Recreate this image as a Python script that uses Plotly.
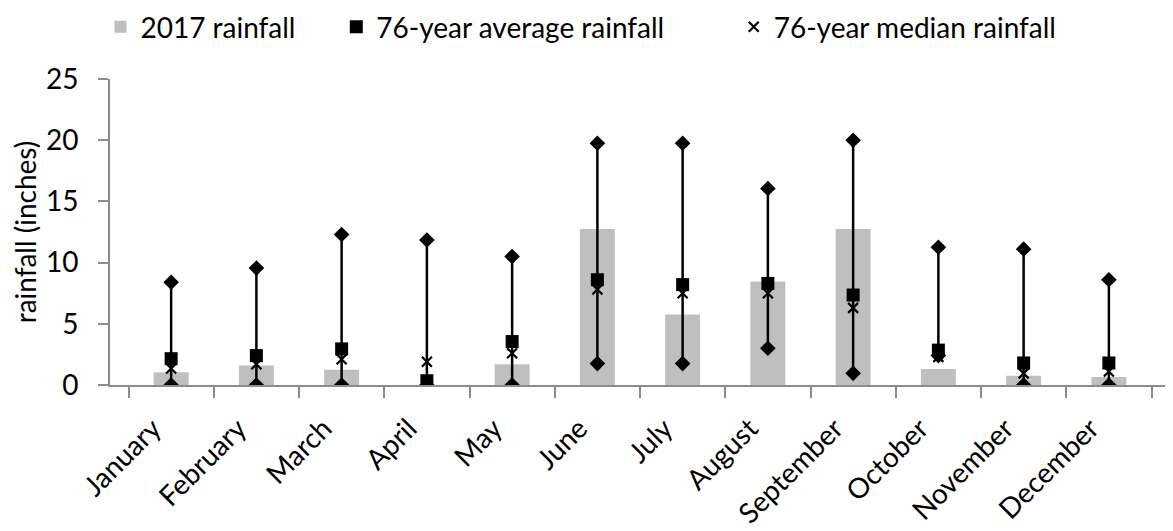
import plotly.graph_objects as go

months = ['January', 'February', 'March', 'April', 'May', 'June',
          'July', 'August', 'September', 'October', 'November', 'December']
rain_2017 = [1.05, 1.6, 1.25, 0.0, 1.7, 12.75, 5.75, 8.45, 12.75, 1.3, 0.75, 0.65]
avg_76 = [2.15, 2.4, 2.95, 0.35, 3.55, 8.6, 8.2, 8.3, 7.35, 2.85, 1.8, 1.8]
median_76 = [1.35, 1.7, 2.1, 1.9, 2.6, 7.8, 7.5, 7.5, 6.3, 2.3, 0.95, 1.1]
max_76 = [8.4, 9.55, 12.3, 11.85, 10.5, 19.75, 19.75, 16.05, 20.0, 11.25, 11.1, 8.6]
min_76 = [0.0, 0.0, 0.0, 0.0, 0.0, 1.75, 1.75, 3.0, 0.95, 2.4, 0.0, 0.0]

FONT = 'Lato'
AXIS_GREY = '#8c8c8c'
NBSP = '\u00a0'   # used to widen the gaps between legend entries


def range_lines(cats, lows, highs):
    xs, ys = [], []
    for c, lo, hi in zip(cats, lows, highs):
        xs += [c, c, None]
        ys += [lo, hi, None]
    return xs, ys


range_x, range_y = range_lines(months, min_76, max_76)

bar_trace = go.Bar(x=months, y=rain_2017, name='2017 rainfall' + NBSP * 5,
                   marker=dict(color='#bfbfbf', line_width=0), width=0.41)

range_trace = go.Scatter(x=range_x, y=range_y, mode='lines+markers',
                         line=dict(color='black', width=2.5),
                         marker=dict(symbol='diamond', size=12, color='black'),
                         showlegend=False, hoverinfo='skip')

avg_trace = go.Scatter(x=months, y=avg_76, mode='markers',
                       name='76-year average rainfall' + NBSP * 9,
                       marker=dict(symbol='square', size=13, color='black'))

median_trace = go.Scatter(x=months, y=median_76, mode='markers', name='76-year median rainfall',
                          marker=dict(symbol='x-thin', size=10, color='black',
                                      line=dict(width=2.2, color='black')))

fig = go.Figure(data=[bar_trace, range_trace, avg_trace, median_trace])

# page body adds an 8px margin, so the figure is 8px smaller than the window
fig.update_layout(
    width=1165, height=523,
    font=dict(family=FONT, size=28, color='black'),
    plot_bgcolor='white', paper_bgcolor='white',
    margin=dict(l=102, r=3, t=71, b=146, autoexpand=False),
    showlegend=True,
    legend=dict(orientation='h', x=-0.009, y=1.17, xanchor='left', yanchor='middle',
                font=dict(size=28), itemwidth=30, traceorder='normal'),
    xaxis=dict(showline=True, linecolor=AXIS_GREY, linewidth=2,
               ticks='outside', tickson='boundaries', ticklen=11, tickwidth=2,
               tickcolor=AXIS_GREY, tickangle=-45, showgrid=False,
               ticklabelstandoff=14, ticklabelshift=-18,
               tickfont=dict(size=28)),
    yaxis=dict(range=[0, 25], dtick=5, showline=True, linecolor=AXIS_GREY, linewidth=2,
               ticks='outside', ticklen=10, tickwidth=2, tickcolor=AXIS_GREY,
               ticklabelstandoff=14,
               showgrid=False, zeroline=False, tickfont=dict(size=28),
               title=dict(text='rainfall (inches)', font=dict(size=28), standoff=5)),
)

fig.write_html("out.html")
